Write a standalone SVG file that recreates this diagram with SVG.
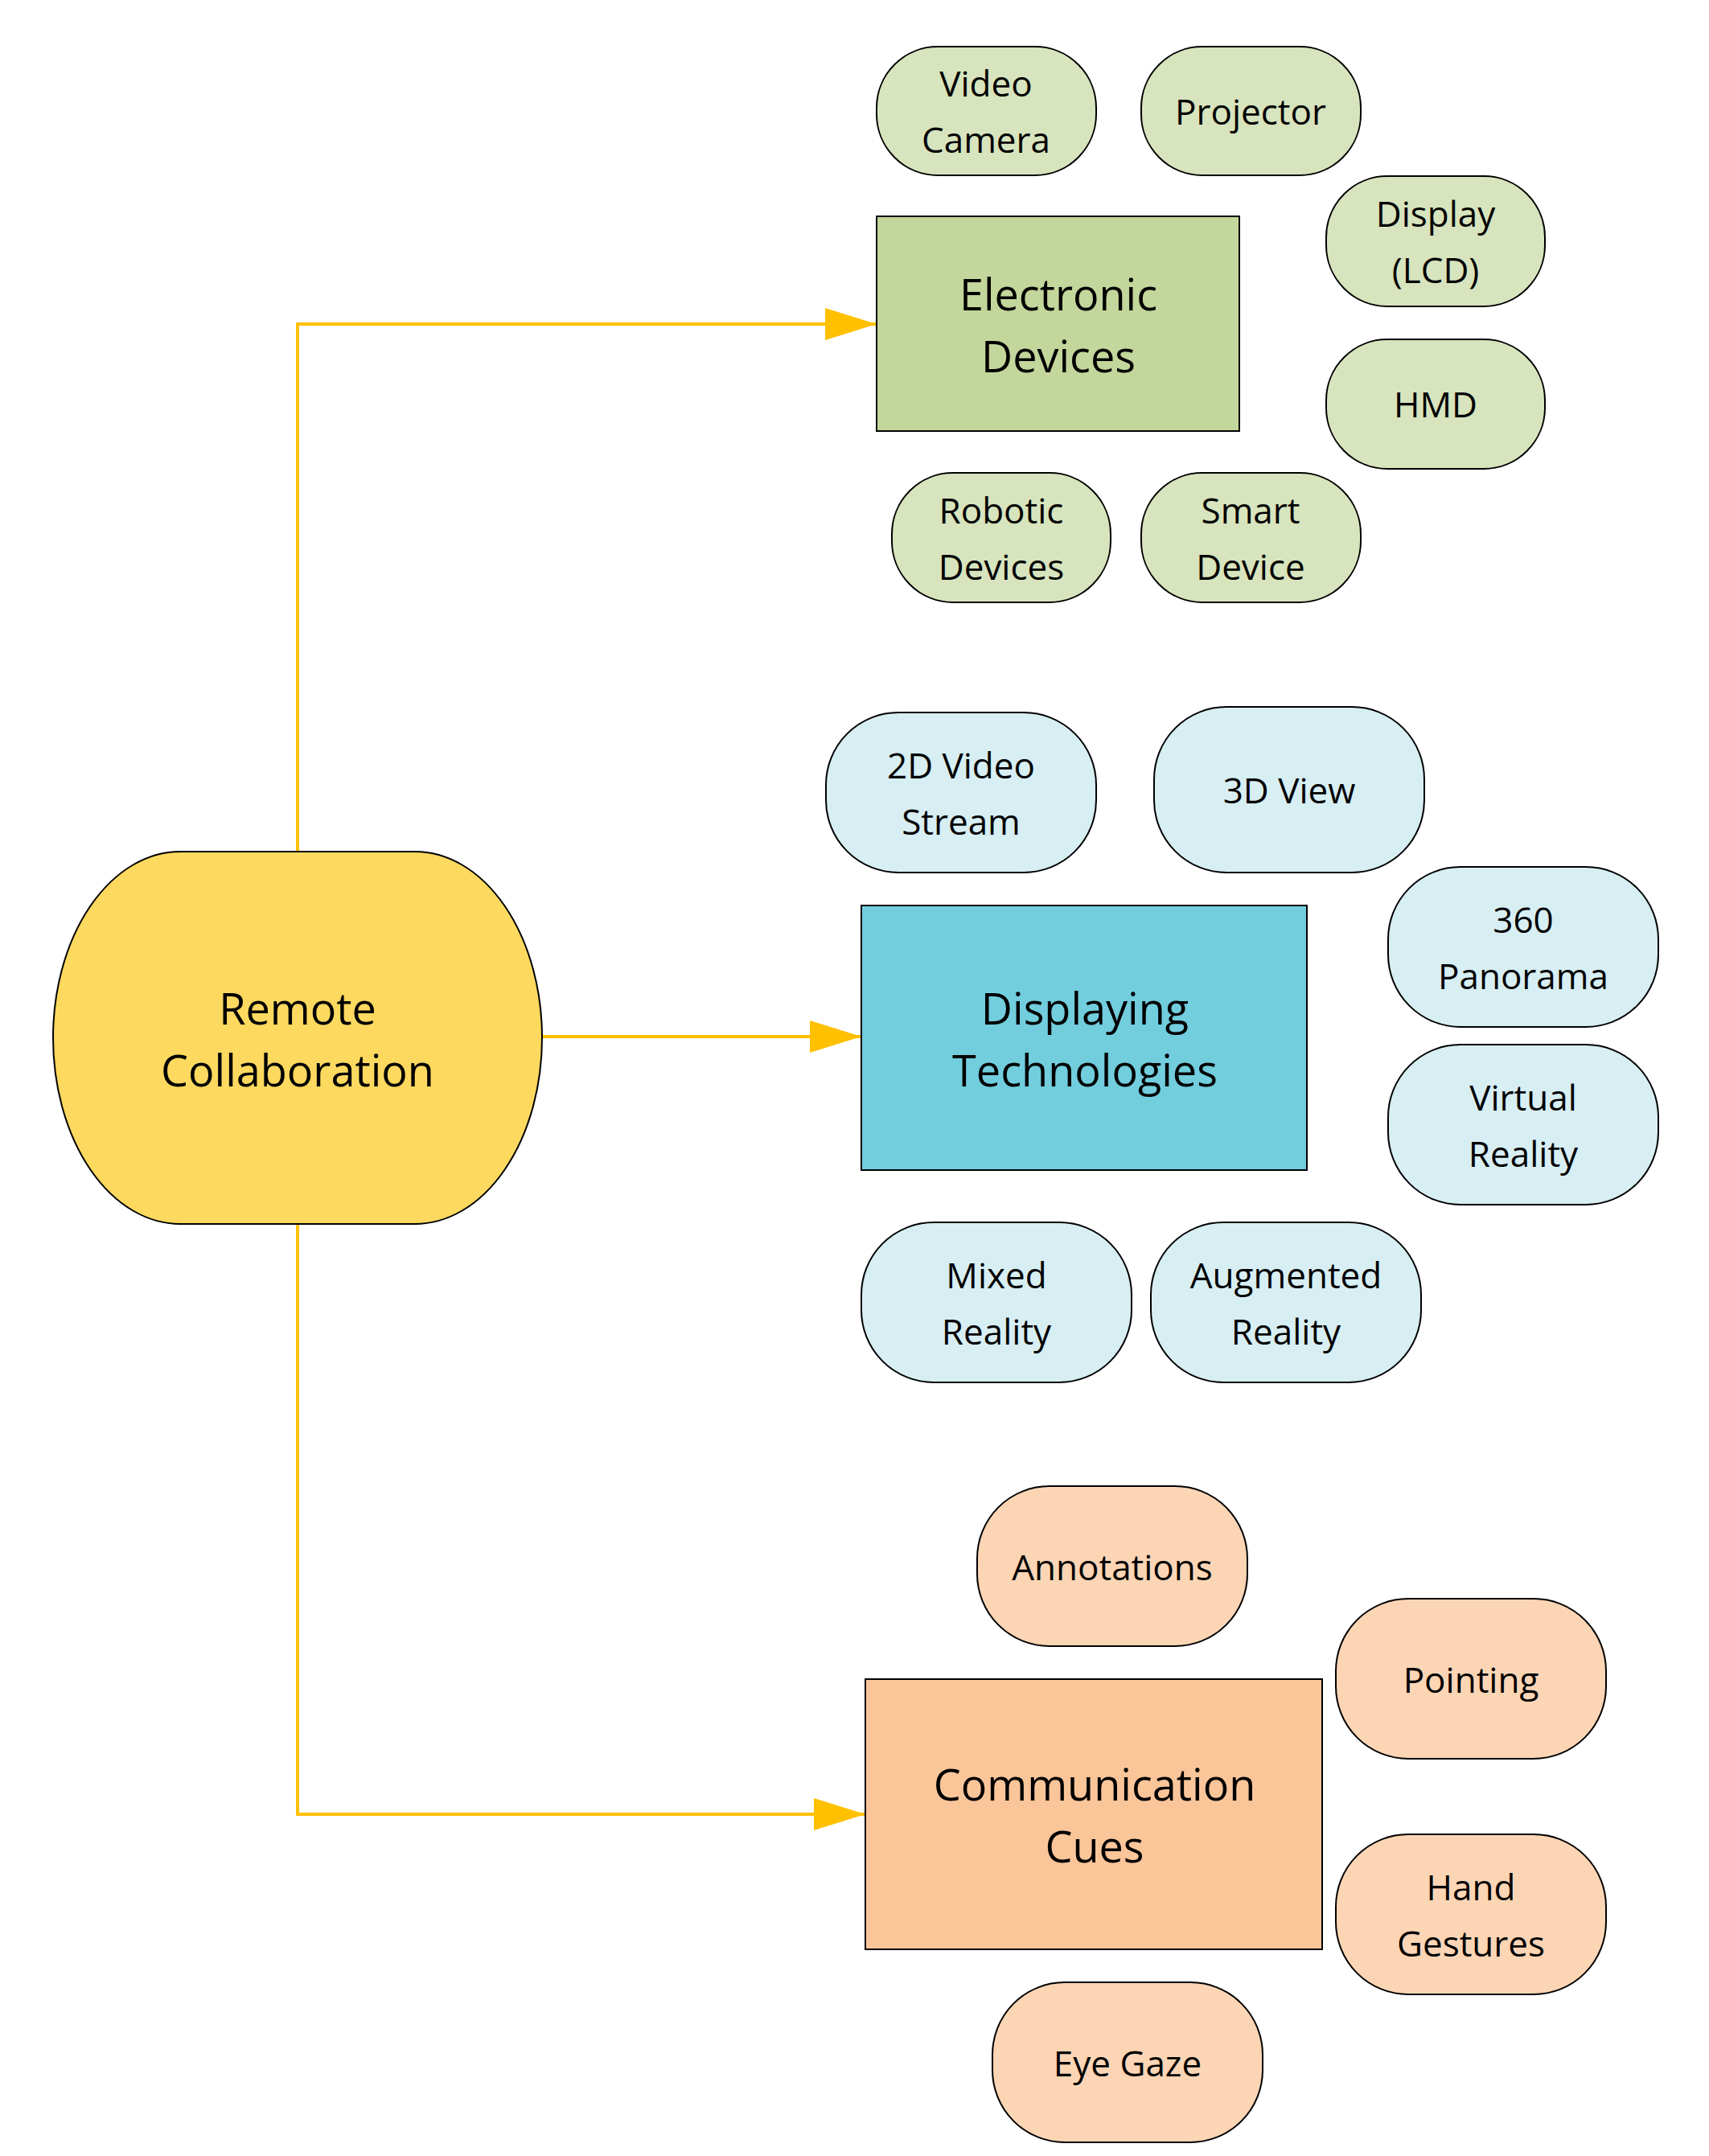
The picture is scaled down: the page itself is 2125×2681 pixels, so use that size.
<svg xmlns="http://www.w3.org/2000/svg" width="2125" height="2681" viewBox="0 0 2125 2681">
<style>
text{font-family:"Open Sans","Liberation Sans",sans-serif;fill:#000;text-anchor:middle;dominant-baseline:central}
.s{font-size:44px}
.b{font-size:54px}
.g{fill:#d7e4bd;stroke:#000;stroke-width:2}
.c{fill:#d7eef3;stroke:#000;stroke-width:2}
.o{fill:#fcd5b5;stroke:#000;stroke-width:2}
.con{fill:none;stroke:#ffc000;stroke-width:4}
</style>
<defs>
<marker id="ar" markerWidth="16" markerHeight="10" refX="16" refY="5" orient="auto" markerUnits="strokeWidth">
<path d="M0,0 L16,5 L0,10 Z" fill="#ffc000"/>
</marker>
</defs>
<g id="connectors">
<path class="con" d="M370,1059 V403 H1090" marker-end="url(#ar)"/>
<path class="con" d="M674,1289 H1071" marker-end="url(#ar)"/>
<path class="con" d="M370,1522 V2256 H1076" marker-end="url(#ar)"/>
</g>
<g id="remote">
<path d="M224,1059 H516 A158,231.5 0 0 1 516,1522 H224 A158,231.5 0 0 1 224,1059 Z" fill="#fdd95f" stroke="#000" stroke-width="2"/>
<text class="b" x="370" y="1253">Remote</text><text class="b" x="370" y="1330">Collaboration</text>
</g>
<g id="electronic">
<rect x="1090" y="269" width="451" height="267" fill="#c3d69b" stroke="#000" stroke-width="2"/>
<text class="b" x="1316" y="365">Electronic</text><text class="b" x="1316" y="442">Devices</text>
</g>
<g id="displaying">
<rect x="1071" y="1126" width="554" height="329" fill="#72cddd" stroke="#000" stroke-width="2"/>
<text class="b" x="1349" y="1253">Displaying</text><text class="b" x="1349" y="1330">Technologies</text>
</g>
<g id="communication">
<rect x="1076" y="2088" width="568" height="336" fill="#fbc59a" stroke="#000" stroke-width="2"/>
<text class="b" x="1361" y="2218">Communication</text><text class="b" x="1361" y="2295">Cues</text>
</g>
<g id="videocamera"><rect class="g" x="1090" y="58" width="273" height="160" rx="76"/><text class="s" x="1226" y="103">Video</text><text class="s" x="1226" y="173">Camera</text></g>
<g id="projector"><rect class="g" x="1419" y="58" width="273" height="160" rx="76"/><text class="s" x="1555" y="138">Projector</text></g>
<g id="display"><rect class="g" x="1649" y="219" width="272" height="162" rx="76"/><text class="s" x="1785" y="265">Display</text><text class="s" x="1785" y="335">(LCD)</text></g>
<g id="hmd"><rect class="g" x="1649" y="422" width="272" height="161" rx="76"/><text class="s" x="1785" y="502">HMD</text></g>
<g id="robotic"><rect class="g" x="1109" y="588" width="272" height="161" rx="76"/><text class="s" x="1245" y="634">Robotic</text><text class="s" x="1245" y="704">Devices</text></g>
<g id="smart"><rect class="g" x="1419" y="588" width="273" height="161" rx="76"/><text class="s" x="1555" y="634">Smart</text><text class="s" x="1555" y="704">Device</text></g>
<g id="video2d"><rect class="c" x="1027" y="886" width="336" height="199" rx="90"/><text class="s" x="1195" y="951">2D Video</text><text class="s" x="1195" y="1021">Stream</text></g>
<g id="view3d"><rect class="c" x="1435" y="879" width="336" height="206" rx="90"/><text class="s" x="1603" y="982">3D View</text></g>
<g id="panorama"><rect class="c" x="1726" y="1078" width="336" height="199" rx="90"/><text class="s" x="1894" y="1143">360</text><text class="s" x="1894" y="1213">Panorama</text></g>
<g id="vr"><rect class="c" x="1726" y="1299" width="336" height="199" rx="90"/><text class="s" x="1894" y="1364">Virtual</text><text class="s" x="1894" y="1434">Reality</text></g>
<g id="mr"><rect class="c" x="1071" y="1520" width="336" height="199" rx="90"/><text class="s" x="1239" y="1585">Mixed</text><text class="s" x="1239" y="1655">Reality</text></g>
<g id="ar1"><rect class="c" x="1431" y="1520" width="336" height="199" rx="90"/><text class="s" x="1599" y="1585">Augmented</text><text class="s" x="1599" y="1655">Reality</text></g>
<g id="annotations"><rect class="o" x="1215" y="1848" width="336" height="199" rx="90"/><text class="s" x="1383" y="1948">Annotations</text></g>
<g id="pointing"><rect class="o" x="1661" y="1988" width="336" height="199" rx="90"/><text class="s" x="1829" y="2088">Pointing</text></g>
<g id="hand"><rect class="o" x="1661" y="2281" width="336" height="199" rx="90"/><text class="s" x="1829" y="2346">Hand</text><text class="s" x="1829" y="2416">Gestures</text></g>
<g id="eyegaze"><rect class="o" x="1234" y="2465" width="336" height="199" rx="90"/><text class="s" x="1402" y="2565">Eye Gaze</text></g>
</svg>
